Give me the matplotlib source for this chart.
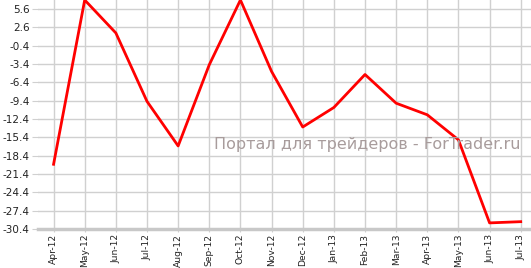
import matplotlib
matplotlib.use("Agg")
import matplotlib.pyplot as plt

# monthly values
months = ["Apr-12", "May-12", "Jun-12", "Jul-12", "Aug-12", "Sep-12", "Oct-12",
          "Nov-12", "Dec-12", "Jan-13", "Feb-13", "Mar-13", "Apr-13", "May-13",
          "Jun-13", "Jul-13"]
values = [-19.8, 7.1, 1.7, -9.5, -16.8, -3.5, 7.1, -4.6, -13.7, -10.5,
          -5.1, -9.8, -11.7, -15.8, -29.4, -29.2]
yticks = [5.6, 2.6, -0.4, -3.4, -6.4, -9.4, -12.4, -15.4, -18.4, -21.4,
          -24.4, -27.4, -30.4]

fig = plt.figure(figsize=(5.31, 2.68), dpi=100)
ax = fig.add_axes([38 / 531, 39 / 268, 1 - 38 / 531, 1 - 39 / 268])

x = list(range(len(months)))
ax.plot(x, values, color="#ff0000", linewidth=2, zorder=3, clip_on=False)

ax.set_xlim(-0.5, 15.33)
ax.set_ylim(-30.4, 7.1)
ax.set_xticks(x)
ax.set_xticklabels(months, rotation=90, fontsize=6.6, color="#222222")
ax.set_yticks(yticks)
ax.set_yticklabels(["%.1f" % v for v in yticks], fontsize=7.5, color="#222222")

ax.grid(True, color="#d0d0d0", linewidth=1)
ax.set_axisbelow(True)
for s in ["top", "right", "left"]:
    ax.spines[s].set_visible(False)
ax.spines["bottom"].set_color("#c8c8c8")
ax.spines["bottom"].set_linewidth(2.5)
ax.tick_params(axis="y", length=4, color="#d0d0d0", pad=2)
ax.tick_params(axis="x", length=2, color="#d0d0d0", pad=1.5)

# watermark
ax.text(367 / 531, 1 - 145 / 268, "Портал для трейдеров - ForTrader.ru",
        transform=fig.transFigure, ha="center", va="center",
        fontsize=11.5, color="#a89c9c", zorder=4)

fig.savefig("out.png", dpi=100)
